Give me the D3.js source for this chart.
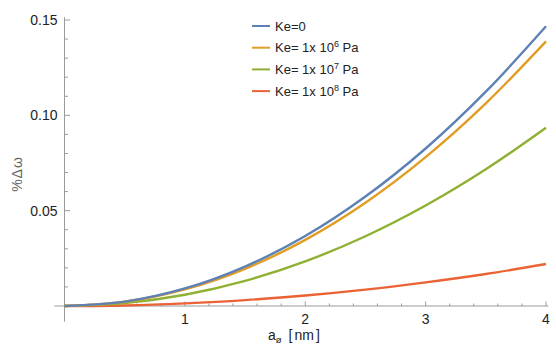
<!DOCTYPE html>
<html>
<head>
<meta charset="utf-8">
<script src="https://cdn.jsdelivr.net/npm/d3@7"></script>
<style>
  html, body { margin: 0; padding: 0; background: #fff; }
  svg { display: block; }
  text { font-family: "Liberation Sans", Arial, sans-serif; }
</style>
</head>
<body>
<svg id="chart" width="556" height="345"></svg>
<script>
// Sampled radius values a0 (nm)
const radius = [0, 0.5, 1, 1.5, 2, 2.5, 3, 3.5, 4];

// Relative frequency shift (%Δω) for each elastic constant Ke
const keZero  = [0, 0.0023, 0.0092, 0.0207, 0.0367, 0.0574, 0.0826, 0.1124, 0.1467];
const keE6    = [0, 0.0022, 0.0087, 0.0195, 0.0347, 0.0542, 0.0781, 0.1063, 0.1388];
const keE7    = [0, 0.0015, 0.0059, 0.0132, 0.0234, 0.0366, 0.0527, 0.0717, 0.0935];
const keE8    = [0, 0.0003, 0.0014, 0.0031, 0.0055, 0.0086, 0.0124, 0.0168, 0.0220];

const seriesNames = ["Ke=0", "Ke= 1x 10|6| Pa", "Ke= 1x 10|7| Pa", "Ke= 1x 10|8| Pa"];
const seriesColors = ["#5E81B5", "#E19C24", "#8FB032", "#EB6235"];

const xMajorTicks = [1, 2, 3, 4];
const yMajorTicks = [0.05, 0.10, 0.15];

const svg = d3.select("#chart");

const x = d3.scaleLinear().domain([0, 4]).range([64.5, 546]);
const y = d3.scaleLinear().domain([0, 0.15]).range([306, 20]);

const axisColor = "#9a9a9a";

// x axis: line extends slightly past the origin
svg.append("line")
  .attr("x1", x(-0.085)).attr("x2", x(4.02))
  .attr("y1", y(0)).attr("y2", y(0))
  .attr("stroke", axisColor).attr("stroke-width", 1);

// y axis
svg.append("line")
  .attr("x1", x(0)).attr("x2", x(0))
  .attr("y1", y(0.1515)).attr("y2", y(-0.0082))
  .attr("stroke", axisColor).attr("stroke-width", 1);

// x ticks (inward, pointing up)
const xMinor = d3.range(0.2, 4.01, 0.2).filter(v => Math.abs(v - Math.round(v)) > 1e-6);
svg.append("g").selectAll("line.xmin").data(xMinor).join("line")
  .attr("x1", d => x(d)).attr("x2", d => x(d))
  .attr("y1", y(0)).attr("y2", y(0) - 2.5)
  .attr("stroke", axisColor);
svg.append("g").selectAll("line.xmaj").data(xMajorTicks).join("line")
  .attr("x1", d => x(d)).attr("x2", d => x(d))
  .attr("y1", y(0)).attr("y2", y(0) - 4.5)
  .attr("stroke", axisColor);
svg.append("g").selectAll("text").data(xMajorTicks).join("text")
  .attr("x", d => x(d)).attr("y", 324)
  .attr("text-anchor", "middle")
  .attr("font-size", 14).attr("fill", "#222")
  .text(d => d3.format("d")(d));

// y ticks (inward, pointing right)
const yMinor = d3.range(0.01, 0.1501, 0.01).filter(v => Math.abs(v * 20 - Math.round(v * 20)) > 1e-6);
svg.append("g").selectAll("line").data(yMinor).join("line")
  .attr("x1", x(0)).attr("x2", x(0) + 3.5)
  .attr("y1", d => y(d)).attr("y2", d => y(d))
  .attr("stroke", axisColor);
svg.append("g").selectAll("line").data(yMajorTicks).join("line")
  .attr("x1", x(0)).attr("x2", x(0) + 5.5)
  .attr("y1", d => y(d)).attr("y2", d => y(d))
  .attr("stroke", axisColor);
svg.append("g").selectAll("text").data(yMajorTicks).join("text")
  .attr("x", 57.5).attr("y", d => y(d) + 5)
  .attr("text-anchor", "end")
  .attr("font-size", 14).attr("fill", "#222")
  .text(d => d3.format(".2f")(d));

// axis titles
const xt = svg.append("text")
  .attr("x", 268).attr("y", 340)
  .attr("font-size", 14).attr("fill", "#222");
xt.append("tspan").text("a");
xt.append("tspan").attr("font-size", 9.5).attr("dy", 3).text("ø");
xt.append("tspan").attr("dy", -3).attr("dx", 7).text("[");
xt.append("tspan").attr("dx", 2).text("nm");
xt.append("tspan").attr("dx", 2).text("]");

svg.append("text")
  .attr("transform", "translate(22,174) rotate(-90)")
  .attr("text-anchor", "middle")
  .attr("font-size", 14).attr("fill", "#666")
  .attr("letter-spacing", 1)
  .text("%Δω");

// curves
const allSeries = [keZero, keE6, keE7, keE8];
const line = d3.line()
  .x(d => x(d[0]))
  .y(d => y(d[1]))
  .curve(d3.curveCatmullRom.alpha(0.5));

// draw lowest first so the upper curves sit on top
allSeries.map((vals, i) => ({ vals, i })).reverse().forEach(({ vals, i }) => {
  svg.append("path")
    .datum(radius.map((r, k) => [r, vals[k]]))
    .attr("d", line)
    .attr("fill", "none")
    .attr("stroke", seriesColors[i])
    .attr("stroke-width", 2.4)
    .attr("stroke-linecap", "butt");
});

// legend
const legend = svg.append("g");
seriesNames.forEach((name, i) => {
  const yy = 26 + i * 21.7;
  legend.append("line")
    .attr("x1", 252).attr("x2", 270)
    .attr("y1", yy).attr("y2", yy)
    .attr("stroke", seriesColors[i]).attr("stroke-width", 2);
  const parts = name.split("|");
  const t = legend.append("text")
    .attr("x", 275).attr("y", yy + 4.5)
    .attr("font-size", 13).attr("fill", "#222");
  t.append("tspan").text(parts[0]);
  if (parts.length > 1) {
    t.append("tspan").attr("font-size", 9).attr("dy", -5).text(parts[1]);
    t.append("tspan").attr("dy", 5).text(parts[2]);
  }
});
</script>
</body>
</html>
